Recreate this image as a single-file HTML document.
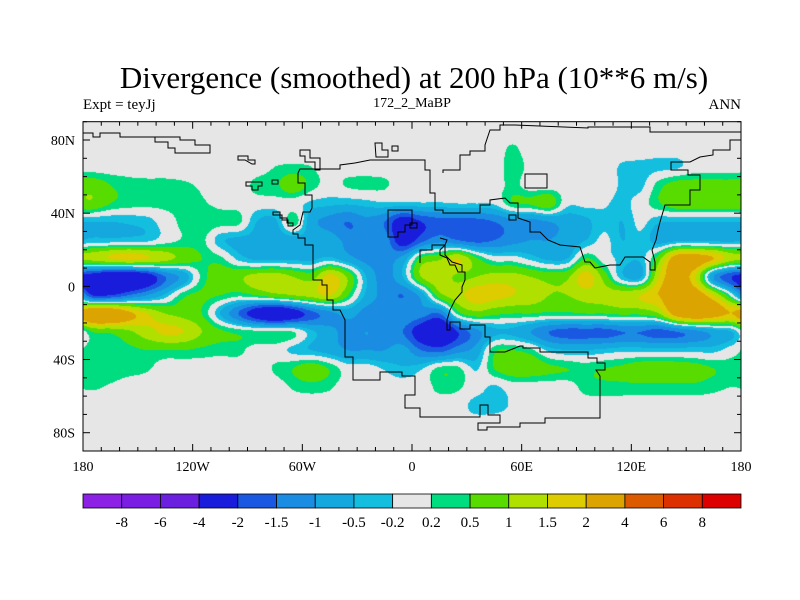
<!DOCTYPE html>
<html><head><meta charset="utf-8"><style>
html,body{margin:0;padding:0;background:#fff;}
#wrap{position:relative;width:800px;height:600px;font-family:"Liberation Serif",serif;color:#000;}
.t{position:absolute;white-space:nowrap;}
</style></head><body>
<div id="wrap">
<div class="t" style="left:0;width:828px;text-align:center;top:60px;font-size:31px;">Divergence (smoothed) at 200 hPa (10**6 m/s)</div>
<div class="t" style="left:83px;top:97px;font-size:15px;">Expt = teyJj</div>
<div class="t" style="left:312px;width:200px;text-align:center;top:96px;font-size:14px;">172_2_MaBP</div>
<div class="t" style="right:59px;top:97px;font-size:15px;">ANN</div>
<canvas id="field" width="658" height="330" style="position:absolute;left:83px;top:121px;"></canvas>
<svg id="ov" width="800" height="600" style="position:absolute;left:0;top:0;"></svg>
</div>
<script>
const lons=[-175,-165,-155,-145,-135,-125,-115,-105,-95,-85,-75,-65,-55,-45,-35,-25,-15,-5,5,15,25,35,45,55,65,75,85,95,105,115,125,135,145,155,165,175];
const lats=[85,75,65,55,45,35,25,15,5,-5,-15,-25,-35,-45,-55,-65,-75,-85];
const r85=[0,0,0,0,0,0,0,0,0,0,0,0,0,0,0,0,0,0,0,0,0,0,0,0,0,0,0,0,0,0,0,0,0,0,0,0];
const r75=[0,0,0,0,0,0,0,0,0,0,0,0,0,0,0,0,0,0,0,0,0,0,0,0.25,0,0,0,0,0,0,0,0,0,0,0,0];
const r65=[0,0,0,0,0,0,0,0,0,0,0.2,0.25,0.2,0,0,0,0,0,0,0,0,0,0,0.35,0.1,0,0,0,0,-0.25,-0.3,-0.3,-0.25,0,0,0];
const r55=[0.8,0.5,0.35,0.3,0.3,0.25,0.15,0,0,0.3,0.4,0.8,0.35,0.05,0.25,0.3,0.25,0,0,0,0,0,0,0.3,0,0,0,0,0,-0.25,-0.3,0.35,0.7,0.7,0.7,0.7];
const r45=[0.9,0.5,0.35,0.3,0.3,0.3,0.25,0.1,0.05,0,0,0,-0.3,-0.4,-0.45,-0.35,-0.25,-0.3,-0.25,-0.25,-0.2,-0.2,-0.15,0.45,0.55,0.8,-0.1,-0.1,-0.15,-0.3,0,0.45,0.8,0.8,0.8,0.8];
const r35=[-0.5,-0.5,-0.45,-0.35,0,0.3,0.45,0.35,0.3,-0.5,-0.6,0.4,-0.8,-1.2,-1.5,-1.2,-1.5,-2.5,-2,-1.7,-1.7,-1.7,-1.5,-1.2,-1.2,-1,-0.8,-0.6,-0.3,-0.5,-0.1,-0.45,-0.5,-0.5,-0.5,-0.5];
const r25=[-0.4,-0.4,-0.35,-0.3,0,0.25,0.3,-0.4,-0.6,-0.6,-0.7,-0.7,-0.6,-0.7,-1.2,-1.5,-1.2,-2.5,-1.7,-1.2,-1.5,-1.7,-1.5,-1.2,-1,-1,-0.8,-0.5,-0.1,-0.5,-0.3,-0.7,-0.6,-0.6,-0.6,-0.6];
const r15=[1.2,1.5,1.7,1.5,1.2,0.8,0.5,0.3,-0.3,-0.6,-0.6,-0.6,-0.6,-0.4,-0.8,-1.2,-1.2,-0.8,0.6,0.9,1.5,0.6,0,0,-0.3,-0.6,-0.5,0.5,0,-0.3,-0.4,0.8,2.5,2.5,2,1.2];
const r5=[-2.5,-3,-3,-2.5,-1.5,-0.8,0.3,0.8,0.9,1.2,1.3,1,0.8,1.7,0.9,-0.5,-1.2,-0.5,1,1.3,0.9,1,1.2,1.2,1,0.8,0.9,1.8,0.8,-0.4,-0.6,1.5,2.5,1.5,-1,-2];
const rm5=[-2,-2,-1.5,-1,-0.4,0.4,0.6,0.5,0.3,0.5,0.8,1,1.2,1.5,0.5,-0.6,-1.2,-1.5,-0.8,0.8,1.3,1.8,1.7,1.5,1.3,1,1,1.2,1.2,1.3,1.5,2,2.5,2.5,1.5,0];
const rm15=[3,3,2.2,1.5,1,0.8,0.5,-0.5,-1.5,-2.5,-3,-2.5,-1.7,-1.2,-0.8,-1.2,-1.2,-1,-1.2,-1.5,0.3,0.8,0.6,0.5,0.5,0.4,0.4,0.5,0.5,0.6,0.6,1,2.5,3,2.5,2];
const rm25=[0.5,0.6,0.9,1.3,1.6,1.5,1,0.6,0.4,0.3,0.3,0.2,-0.4,-0.8,-1.2,-1,-1.2,-1.5,-2.5,-3,-2,-1.2,-0.6,-0.6,-1,-1.5,-1.7,-1.7,-1.7,-1.5,-1.5,-1.7,-1.5,-1.2,-0.8,-0.5];
const rm35=[0.4,0.4,0.4,0.5,0.5,0.5,0.4,0.3,0.3,0,0,-0.3,-0.5,-0.7,-1,-1,-1,-0.8,-1.5,-1.7,-1.2,-0.8,0.4,0.5,0.3,-0.3,-0.5,-0.5,-0.4,-0.3,-0.3,-0.3,-0.3,-0.3,-0.3,0];
const rm45=[0.45,0.45,0.35,0.25,0,0,0,0,0,0,0.25,0.5,0.8,0.45,0,0,-0.25,-0.45,-0.25,0.3,0.3,-0.25,0.5,0.8,0.8,0.6,0.5,0.4,0.5,0.6,0.8,0.8,0.8,0.7,0.5,0.4];
const rm55=[0.25,0.15,0,0,0,0,0,0,0,0,0,0.25,0.35,0.25,0,0,0,0,0,0.3,0.25,0,-0.25,0,0,0,0,0.35,0.4,0.4,0.4,0.4,0.4,0.4,0.3,0.2];
const rm65=[0,0,0,0,0,0,0,0,0,0,0,0,0,0,0,0,0,0,0,0,0,-0.35,-0.35,-0.15,0,0,0,0,0,0,0,0,0,0,0,0];
const rm75=r85.slice();
const rm85=r85.slice();
const grid=[r85,r75,r65,r55,r45,r35,r25,r15,r5,rm5,rm15,rm25,rm35,rm45,rm55,rm65,rm75,rm85];
const levels=[-8,-6,-4,-2,-1.5,-1,-0.5,-0.2,0.2,0.5,1,1.5,2,4,6,8];
const levelLabels=["-8","-6","-4","-2","-1.5","-1","-0.5","-0.2","0.2","0.5","1","1.5","2","4","6","8"];
const colors=["#8c20e4","#7a1ee4","#6a20de","#1a1cdc","#1a58e2","#1a8ce2","#14a8de","#14bede","#e6e6e6","#00dc80","#58dc00","#b0e000","#dccc00","#dca400","#dc5a00","#dc3000","#dc0000"];

const PX0=83,PX1=741,PY0=121.7,PY1=451;
function xOf(lon){return PX0+(lon+180)/360*(PX1-PX0);}
function yOf(lat){return PY0+(90-lat)/180*(PY1-PY0);}
function hex(c){return [parseInt(c.substr(1,2),16),parseInt(c.substr(3,2),16),parseInt(c.substr(5,2),16)];}
function cr(p0,p1,p2,p3,t){return 0.5*((2*p1)+(-p0+p2)*t+(2*p0-5*p1+4*p2-p3)*t*t+(-p0+3*p1-3*p2+p3)*t*t*t);}
function g(j,i){j=Math.max(0,Math.min(lats.length-1,j));i=((i%36)+36)%36;return grid[j][i];}
function sample(lon,lat){
  const fi=(lon-lons[0])/10; const i0=Math.floor(fi); const tx=fi-i0;
  let fj=(lats[0]-lat)/10; fj=Math.max(0,Math.min(lats.length-1.0001,fj));
  const j0=Math.floor(fj); const ty=fj-j0;
  const rows=[];
  for(let dj=-1;dj<=2;dj++){const j=j0+dj;rows.push(cr(g(j,i0-1),g(j,i0),g(j,i0+1),g(j,i0+2),tx));}
  return cr(rows[0],rows[1],rows[2],rows[3],ty);
}
(function(){
  const cv=document.getElementById('field'),ctx=cv.getContext('2d');
  const W=cv.width,H=cv.height,img=ctx.createImageData(W,H);
  const rgb=colors.map(hex);
  for(let y=0;y<H;y++){const lat=90-(y+0.5)/H*180;
    for(let x=0;x<W;x++){const lon=-180+(x+0.5)/W*360;
      const v=sample(lon,lat);let i=0;while(i<levels.length&&v>=levels[i])i++;
      const c=rgb[i],k=(y*W+x)*4;img.data[k]=c[0];img.data[k+1]=c[1];img.data[k+2]=c[2];img.data[k+3]=255;}}
  ctx.putImageData(img,0,0);
})();

const NS="http://www.w3.org/2000/svg";
const svg=document.getElementById('ov');
function mk(tag,attrs,name,parent){const e=document.createElementNS(NS,tag);for(const k in attrs)e.setAttribute(k,attrs[k]);
  
  
  (parent||svg).appendChild(e);return e;}
const coasts=[
 "83,133 93,133 93,137 100,137 100,133 120,133 120,137 155,137 155,142 168,142 168,148 175,148 175,153 210,153 210,145 195,145 195,140 180,140 180,137 150,137",
 "238,156 248,156 248,160 255,160 255,164 252,164 245,160 238,160 Z",
 "246,182 262,182 262,186 258,186 258,190 252,190 252,186 246,186 Z",
 "272,180 278,180 278,184 272,184 Z",
 "273,212 280,212 280,218 287,218 287,223 293,223 293,226 288,226 288,220 282,220 282,215 273,215 Z",
 "298,173 298,183 305,183 305,195 312,195 312,208 310,212 303,212 300,225 293,230 293,234 298,234 298,238 305,238 305,245 313,245 313,280 322,280 322,285 327,285 327,300 333,300 333,310 340,310 345,320 345,357 353,357 353,380 380,380 380,372 402,372 402,376 415,376 415,395 405,395 405,408 420,408 420,417 480,417 480,405 488,405 488,415 500,415 500,423 478,423 478,430 487,430 487,427 520,427 520,423 545,423 545,418 600,418 600,376 596,370 605,370 605,363 597,363 597,358 588,358 588,352 540,352 540,348 523,348 523,346 520,346 505,352 490,352 490,337 485,337 485,325 470,325 470,329 460,329 460,322 450,322 450,330 447,330 447,320 450,310 455,300 462,292 462,287 465,280 465,272 458,272 455,265 450,265 447,258 440,255 440,250 445,245 447,240 440,238",
 "355,163 340,165 340,169 300,169 298,173",
 "355,163 370,160 425,160 425,170 430,170 430,193 435,193 435,210 443,210 443,213 480,213 480,205 490,205 490,200 505,198 510,203 518,203 518,218 530,222 530,232 540,232 548,240 560,245 580,247 585,262 590,262 595,268 610,265 620,265 625,257 643,257 650,262 650,270 655,270 655,262 652,250 656,240 658,230 660,222 665,205 690,205 690,190 700,190 700,175 688,175 688,170 671,170 671,162 690,162 700,157 713,155 713,150 730,150 730,140 741,140",
 "443,173 443,170 460,170 460,155 470,155 470,151 485,151 485,145 490,130 500,130 500,125 515,125 588,128 588,127 650,127 650,132 741,132",
 "388,210 388,237 398,237 398,232 405,232 405,225 412,225 412,210 Z",
 "420,263 420,250 432,250 432,245 445,245 445,255 452,262 462,265 462,272",
 "375,143 382,143 382,150 388,150 388,157 376,157 Z",
 "392,146 398,146 398,151 392,151 Z",
 "525,174 547,174 547,188 525,188 Z",
 "410,223 417,223 417,228 410,228 Z",
 "509,215 516,215 516,220 509,220 Z",
 "300,150 310,150 310,158 320,158 320,170 315,170 315,162 305,162 305,156 300,156 Z"
];
coasts.forEach((p,i)=>{
  const closed=p.endsWith(" Z");const pts=p.replace(" Z","");
  mk(closed?'polygon':'polyline',{points:pts,fill:'none',stroke:'#000','stroke-width':1},'coastline-'+i);
});
mk('rect',{x:PX0,y:PY0,width:PX1-PX0,height:PY1-PY0,fill:'none',stroke:'#000','stroke-width':1},'plot-frame');
for(let lon=-180;lon<=180;lon+=10){const x=xOf(lon);const L=(lon%60===0)?7:4;
  mk('line',{x1:x,y1:PY1,x2:x,y2:PY1-L,stroke:'#000'},'x-tick');
  mk('line',{x1:x,y1:PY0,x2:x,y2:PY0+L,stroke:'#000'},'x-tick-top');}
for(let lat=-90;lat<=90;lat+=10){const y=yOf(lat);const L=(lat%40===0)?7:4;
  mk('line',{x1:PX0,y1:y,x2:PX0+L,y2:y,stroke:'#000'},'y-tick');
  mk('line',{x1:PX1,y1:y,x2:PX1-L,y2:y,stroke:'#000'},'y-tick-right');}
const xTicks=[-180,-120,-60,0,60,120,180];
const xTickLabels=["180","120W","60W","0","60E","120E","180"];
xTicks.forEach((v,i)=>{const t=mk('text',{x:xOf(v),y:471,'text-anchor':'middle','font-family':'Liberation Serif, serif','font-size':14},'x-tick-label');t.textContent=xTickLabels[i];});
const yTicks=[80,40,0,-40,-80];
const yTickLabels=["80N","40N","0","40S","80S"];
yTicks.forEach((v,i)=>{const t=mk('text',{x:75,y:yOf(v)+5,'text-anchor':'end','font-family':'Liberation Serif, serif','font-size':14},'y-tick-label');t.textContent=yTickLabels[i];});
const cb=mk('g',{},'colorbar');
const cbw=(PX1-PX0)/colors.length;
colors.forEach((c,i)=>{mk('rect',{x:PX0+i*cbw,y:494,width:cbw,height:14,fill:c,stroke:'#000','stroke-width':0.8},'colorbar-box',cb);});
levelLabels.forEach((s,i)=>{const t=mk('text',{x:PX0+(i+1)*cbw,y:527,'text-anchor':'middle','font-family':'Liberation Serif, serif','font-size':15},'colorbar-label',cb);t.textContent=s;});
</script>
</body></html>
